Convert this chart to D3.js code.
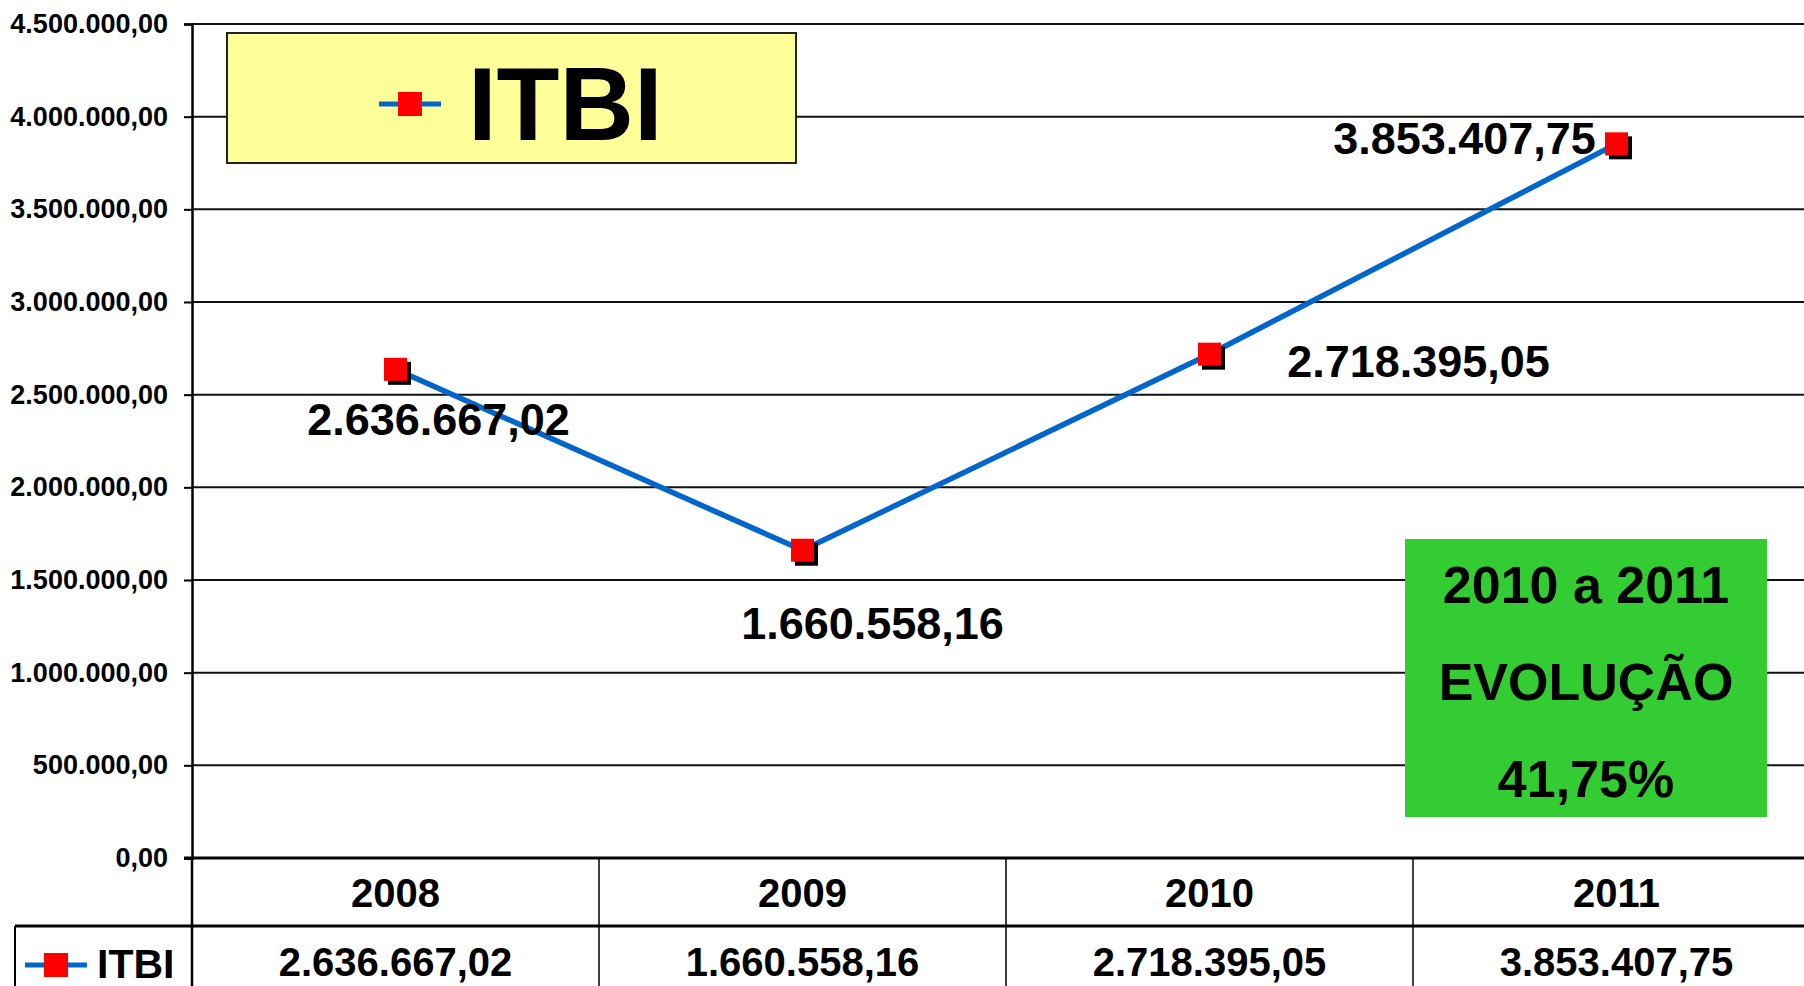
<!DOCTYPE html>
<html>
<head>
<meta charset="utf-8">
<script src="https://cdn.jsdelivr.net/npm/d3@7"></script>
<style>
  body { margin: 0; background: #fff; overflow: hidden; }
  svg text { font-family: "Liberation Sans", Arial, sans-serif; font-weight: bold; fill: #000; }
</style>
</head>
<body>
<div id="chart"></div>
<script>
// data
var years = ["2008", "2009", "2010", "2011"];
var itbi = [2636667.02, 1660558.16, 2718395.05, 3853407.75];
var yTicks = [0, 500000, 1000000, 1500000, 2000000, 2500000, 3000000, 3500000, 4000000, 4500000];
var seriesName = "ITBI";
var noteLines = ["2010 a 2011", "EVOLUÇÃO", "41,75%"];

// label nudges (manual placement in the original)
var labelOffsets = [[43, 66], [70, 89], [209, 23], [-152, 10]];

var W = 1804, H = 986;
var plotLeft = 192, plotTop = 24, plotBottom = 858, colW = 407;
var tableY = 926;

var br = d3.formatLocale({ decimal: ",", thousands: ".", grouping: [3], currency: ["R$", ""] });
var fmt = br.format(",.2f");

var x = d3.scaleBand().domain(years).range([plotLeft, plotLeft + colW * years.length]).paddingInner(0).paddingOuter(0);
var y = d3.scaleLinear().domain([0, 4500000]).range([plotBottom, plotTop]);

var svg = d3.select("#chart").append("svg")
	.attr("width", W)
	.attr("height", H);

// gridlines
svg.selectAll(".grid")
	.data(yTicks)
	.enter()
	.append("line")
		.attr("class", "grid")
		.attr("x1", plotLeft).attr("x2", W)
		.attr("y1", function(d) { return y(d); })
		.attr("y2", function(d) { return y(d); })
		.style("stroke", "#111")
		.style("stroke-width", 2);

// y axis
var yAxis = d3.axisLeft(y).tickValues(yTicks).tickSize(8).tickPadding(16).tickFormat(fmt);
var gy = svg.append("g")
	.attr("transform", "translate(" + plotLeft + ",0)")
	.call(yAxis);
gy.select(".domain").style("stroke", "#000").style("stroke-width", 2.5);
gy.selectAll(".tick line").style("stroke", "#000").style("stroke-width", 2);
gy.selectAll(".tick text")
	.style("font-size", "27px")
	.style("font-family", "'Liberation Sans', Arial, sans-serif")
	.style("font-weight", "bold");

// zero axis line
svg.append("line")
	.attr("x1", plotLeft - 8).attr("x2", W)
	.attr("y1", y(0)).attr("y2", y(0))
	.style("stroke", "#000").style("stroke-width", 3);

// data table
svg.append("line")
	.attr("x1", 15).attr("x2", W)
	.attr("y1", tableY).attr("y2", tableY)
	.style("stroke", "#000").style("stroke-width", 3);
svg.append("line")
	.attr("x1", 15).attr("x2", 15)
	.attr("y1", tableY).attr("y2", H)
	.style("stroke", "#000").style("stroke-width", 2);
svg.selectAll(".colsep")
	.data(years)
	.enter()
	.append("line")
		.attr("class", "colsep")
		.attr("x1", function(d) { return x(d); })
		.attr("x2", function(d) { return x(d); })
		.attr("y1", y(0)).attr("y2", H)
		.style("stroke", "#000")
		.style("stroke-width", function(d, i) { return i == 0 ? 2.5 : 1.5; });

svg.selectAll(".yearlabel")
	.data(years)
	.enter()
	.append("text")
		.attr("class", "yearlabel")
		.attr("x", function(d) { return x(d) + x.bandwidth() / 2; })
		.attr("y", 907)
		.style("text-anchor", "middle")
		.style("font-size", "40px")
		.text(function(d) { return d; });

svg.selectAll(".rowvalue")
	.data(itbi)
	.enter()
	.append("text")
		.attr("class", "rowvalue")
		.attr("x", function(d, i) { return x(years[i]) + x.bandwidth() / 2; })
		.attr("y", 976)
		.style("text-anchor", "middle")
		.style("font-size", "40px")
		.text(function(d) { return fmt(d); });

// legend key (line + square)
function legendKey(g, cx, cy, lineHalf, sq, lw) {
	g.append("line")
		.attr("x1", cx - lineHalf).attr("x2", cx + lineHalf)
		.attr("y1", cy).attr("y2", cy)
		.style("stroke", "#0066CC").style("stroke-width", lw);
	g.append("rect")
		.attr("x", cx - sq / 2).attr("y", cy - sq / 2)
		.attr("width", sq).attr("height", sq)
		.style("fill", "#FF0000");
}
legendKey(svg, 56, 965, 31, 24, 5);
svg.append("text")
	.attr("x", 97).attr("y", 978)
	.style("font-size", "41px")
	.text(seriesName);

// series line
var line = d3.line()
	.x(function(d, i) { return x(years[i]) + x.bandwidth() / 2; })
	.y(function(d) { return y(d); });

svg.append("path")
	.datum(itbi)
	.attr("d", line)
	.style("fill", "none")
	.style("stroke", "#0066CC")
	.style("stroke-width", 5.5)
	.style("stroke-linejoin", "round");

var ms = 23;
svg.selectAll(".shadow")
	.data(itbi)
	.enter()
	.append("rect")
		.attr("class", "shadow")
		.attr("x", function(d, i) { return x(years[i]) + x.bandwidth() / 2 - ms / 2 + 4; })
		.attr("y", function(d) { return y(d) - ms / 2 + 4; })
		.attr("width", ms).attr("height", ms)
		.style("fill", "#000");
svg.selectAll(".marker")
	.data(itbi)
	.enter()
	.append("rect")
		.attr("class", "marker")
		.attr("x", function(d, i) { return x(years[i]) + x.bandwidth() / 2 - ms / 2; })
		.attr("y", function(d) { return y(d) - ms / 2; })
		.attr("width", ms).attr("height", ms)
		.style("fill", "#FF0000");

svg.selectAll(".datalabel")
	.data(itbi)
	.enter()
	.append("text")
		.attr("class", "datalabel")
		.attr("x", function(d, i) { return x(years[i]) + x.bandwidth() / 2 + labelOffsets[i][0]; })
		.attr("y", function(d, i) { return y(d) + labelOffsets[i][1]; })
		.style("text-anchor", "middle")
		.style("font-size", "45px")
		.text(function(d) { return fmt(d); });

// title legend box
svg.append("rect")
	.attr("x", 227).attr("y", 33)
	.attr("width", 569).attr("height", 130)
	.style("fill", "#FFFF99")
	.style("stroke", "#222")
	.style("stroke-width", 2);
legendKey(svg, 410, 104, 31, 24, 5);
svg.append("text")
	.attr("x", 468).attr("y", 140)
	.style("font-size", "103px")
	.text(seriesName);

// green note box
svg.append("rect")
	.attr("x", 1405).attr("y", 539)
	.attr("width", 362).attr("height", 278)
	.style("fill", "#33CC33");
svg.selectAll(".note")
	.data(noteLines)
	.enter()
	.append("text")
		.attr("class", "note")
		.attr("x", 1586)
		.attr("y", function(d, i) { return 603 + i * 97; })
		.style("text-anchor", "middle")
		.style("font-size", "52px")
		.text(function(d) { return d; });
</script>
</body>
</html>
